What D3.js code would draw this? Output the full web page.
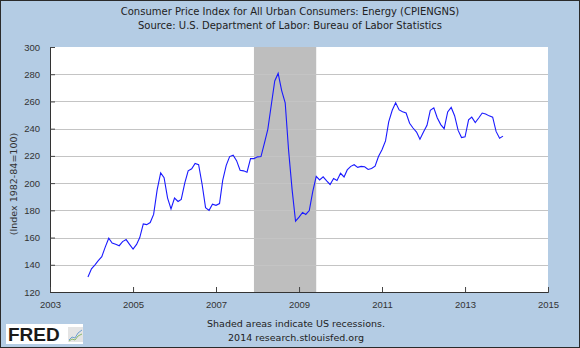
<!DOCTYPE html>
<html>
<head>
<meta charset="utf-8">
<script src="https://cdn.jsdelivr.net/npm/d3@7"></script>
<style>
  body { margin: 0; background: #fff; }
  svg { display: block; font-family: "DejaVu Sans", Verdana, sans-serif; }
  .tick text { fill: #333; }
</style>
</head>
<body>
<svg width="580" height="348"></svg>
<script>
// monthly CPI energy, Dec 2003 .. Dec 2013
const firstMonth = new Date(2003, 11, 1);
const cpiValues = [
  131,
  137, 140, 143, 146, 153, 159.5, 156, 155, 154, 157, 158.5, 155,
  151.5, 155, 160, 170, 169.5, 171, 177, 195, 207.5, 204, 189, 181,
  189, 186.5, 188, 200, 209, 210.5, 214.5, 213.5, 199, 182, 180, 184.5,
  183.7, 185, 202, 213, 219.5, 220.5, 216.5, 209.5, 209, 208, 218, 218,
  219.3, 219.5, 229, 239.5, 257, 275, 280.6, 268, 259, 224, 195, 172,
  175, 178.5, 177, 179.8, 193.5, 205, 202.3, 204.6, 201.6, 199, 203.4, 202,
  207.2, 204.5, 209.7, 212.3, 213.5, 211.6, 212.3, 212, 210, 210.7, 212.5, 219.5,
  224.5, 231, 245, 253.5, 259, 253.8, 252.5, 251.5, 244, 240.5, 237.5, 232.2,
  237.5, 242.5, 253.5, 255.3, 248, 243, 240, 252.3, 255.6, 249.5, 238.7, 233.5,
  234, 246.5, 248.5, 244.5, 247.8, 251.5, 250.8, 249.4, 248.4, 238, 233, 234.5
];
const recessionStart = [new Date(2007, 11, 1)];
const recessionEnd = [new Date(2009, 5, 1)];
const yearTicks = [2003, 2005, 2007, 2009, 2011, 2013, 2015];
const valueTicks = [120, 140, 160, 180, 200, 220, 240, 260, 280, 300];

const months = d3.timeMonth.range(firstMonth, d3.timeMonth.offset(firstMonth, cpiValues.length));
const data = months.map((d, i) => ({ date: d, value: cpiValues[i] }));

const svg = d3.select("svg");
const width = +svg.attr("width");
const height = +svg.attr("height");
const margin = { top: 47, right: 32, bottom: 56, left: 50 };

svg.append("rect")
  .attr("x", 0.5).attr("y", 0.5)
  .attr("width", width - 1).attr("height", height - 1)
  .attr("fill", "#b4cce4")
  .attr("stroke", "#2a2a2a");

const x = d3.scaleTime()
  .domain([new Date(2003, 0, 1), new Date(2015, 0, 1)])
  .range([margin.left, width - margin.right]);

const y = d3.scaleLinear()
  .domain([120, 300])
  .range([height - margin.bottom, margin.top]);

// plot background
svg.append("rect")
  .attr("x", x.range()[0]).attr("y", y(300))
  .attr("width", x.range()[1] - x.range()[0])
  .attr("height", y(120) - y(300))
  .attr("fill", "#fff");

// recession bars
svg.selectAll(".recession")
  .data(recessionStart.map((d, i) => [d, recessionEnd[i]]))
  .enter().append("rect")
  .attr("class", "recession")
  .attr("x", d => x(d[0]))
  .attr("y", y(300))
  .attr("width", d => x(d[1]) - x(d[0]))
  .attr("height", y(120) - y(300))
  .attr("fill", "#bebebe");

// gridlines
svg.append("g")
  .selectAll("line")
  .data(valueTicks.filter(v => v > 120 && v < 300))
  .enter().append("line")
  .attr("x1", x.range()[0]).attr("x2", x.range()[1])
  .attr("y1", d => Math.round(y(d)) + 0.5)
  .attr("y2", d => Math.round(y(d)) + 0.5)
  .attr("stroke", "#c4c4c4")
  .attr("stroke-width", 1.2);

// line
const line = d3.line()
  .x(d => x(d.date))
  .y(d => y(d.value));

svg.append("path")
  .datum(data)
  .attr("fill", "none")
  .attr("stroke", "#1a1aff")
  .attr("stroke-width", 1.1)
  .attr("d", line);

// axes
const yAxis = svg.append("g")
  .attr("transform", `translate(${x.range()[0]},0)`)
  .call(d3.axisLeft(y).tickValues(valueTicks).tickSize(-5).tickPadding(10));
yAxis.select(".domain").attr("stroke", "#333");
yAxis.selectAll(".tick line").attr("stroke", "#444");
yAxis.selectAll(".tick text").attr("font-size", 9.5);

const xAxis = svg.append("g")
  .attr("transform", `translate(0,${y(120)})`)
  .call(d3.axisBottom(x)
    .tickValues(yearTicks.map(t => new Date(t, 0, 1)))
    .tickFormat(d3.timeFormat("%Y"))
    .tickSize(-5).tickPadding(9));
xAxis.select(".domain").attr("stroke", "#333");
xAxis.selectAll(".tick line").attr("stroke", "#444");
xAxis.selectAll(".tick text").attr("font-size", 9.5);

// titles
svg.append("text")
  .attr("x", width / 2).attr("y", 15)
  .attr("text-anchor", "middle")
  .attr("font-size", 10).attr("fill", "#222")
  .text("Consumer Price Index for All Urban Consumers: Energy (CPIENGNS)");
svg.append("text")
  .attr("x", width / 2).attr("y", 29)
  .attr("text-anchor", "middle")
  .attr("font-size", 10).attr("fill", "#222")
  .text("Source: U.S. Department of Labor: Bureau of Labor Statistics");

svg.append("text")
  .attr("transform", "translate(17,184) rotate(-90)")
  .attr("text-anchor", "middle")
  .attr("font-size", 9.5).attr("fill", "#333")
  .text("(Index 1982-84=100)");

svg.append("text")
  .attr("x", 296).attr("y", 327)
  .attr("text-anchor", "middle")
  .attr("font-size", 9.5).attr("fill", "#222")
  .text("Shaded areas indicate US recessions.");
svg.append("text")
  .attr("x", 296).attr("y", 341)
  .attr("text-anchor", "middle")
  .attr("font-size", 9.5).attr("fill", "#222")
  .text("2014 research.stlouisfed.org");

// FRED logo
const logo = svg.append("g").attr("transform", "translate(6,324)");
logo.append("rect").attr("width", 77).attr("height", 20).attr("fill", "#fff");
logo.append("text")
  .attr("x", 2).attr("y", 17)
  .attr("font-family", "'Liberation Sans', Arial, sans-serif")
  .attr("font-weight", "bold").attr("font-size", 19)
  .attr("fill", "#1a1a1a")
  .text("FRED");
logo.append("rect").attr("x", 62).attr("y", 3).attr("width", 15).attr("height", 15).attr("fill", "#e4e4e4");
logo.append("path").attr("d", "M63,16 L66,13 L69,14 L72,9 L76,6").attr("fill", "none").attr("stroke", "#6e9fd0").attr("stroke-width", 1);
logo.append("path").attr("d", "M63,17 L66,15 L69,16 L72,12 L76,10").attr("fill", "none").attr("stroke", "#8ab86a").attr("stroke-width", 1);
</script>
</body>
</html>
